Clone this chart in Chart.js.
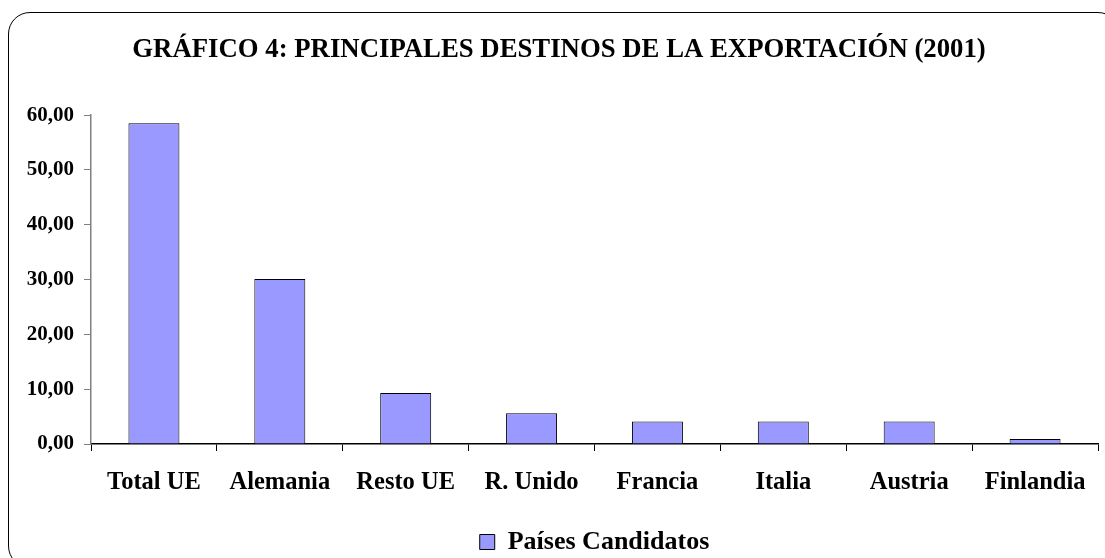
<!DOCTYPE html>
<html>
<head>
<meta charset="utf-8">
<script src="https://cdn.jsdelivr.net/npm/chart.js@4/dist/chart.umd.min.js"></script>
<style>
    html, body { margin: 0; padding: 0; background: #fff; overflow: hidden; }
    #wrap { position: relative; width: 1105px; height: 558px; }
    #frame {
        position: absolute; left: 8px; top: 12px; width: 1112px; height: 556px;
        border: 1.5px solid #000; border-radius: 22px; box-sizing: border-box;
    }
    #chart { position: absolute; left: 0; top: 0; }
</style>
</head>
<body>
<div id="wrap">
    <div id="frame"></div>
    <canvas id="chart" width="1105" height="558"></canvas>
</div>
<script>
    // data
    var categories = ['Total UE', 'Alemania', 'Resto UE', 'R. Unido', 'Francia', 'Italia', 'Austria', 'Finlandia'];
    var values = [58.5, 30.1, 9.3, 5.6, 4.1, 4.1, 4.1, 0.9];
    var seriesName = 'Países Candidatos';
    var titleText = 'GRÁFICO 4: PRINCIPALES DESTINOS DE LA EXPORTACIÓN (2001)';
    var yMin = 0, yMax = 60, yStep = 10;

    var serif = "'Liberation Serif', 'Times New Roman', serif";
    Chart.defaults.font.family = serif;
    Chart.defaults.font.weight = 'bold';
    Chart.defaults.color = '#000';

    const ctx = document.getElementById('chart');
    const barChart = new Chart(ctx, {
        type: 'bar',
        data: {
            labels: categories,
            datasets: [{
                label: seriesName,
                data: values,
                backgroundColor: '#9999FF',
                borderColor: '#000',
                borderWidth: 1,
                barPercentage: 0.405,
                categoryPercentage: 1,
            }]
        },
        options: {
            responsive: false,
            animation: false,
            layout: {
                padding: {left: 20, right: 7, top: 0, bottom: -7},
            },
            plugins: {
                title: {
                    display: true,
                    text: titleText,
                    color: '#000',
                    font: {size: 26.75, weight: 'bold', family: serif},
                    padding: {top: 34, bottom: 49},
                },
                legend: {
                    position: 'bottom',
                    fullSize: false,
                    labels: {
                        color: '#000',
                        font: {size: 26, weight: 'bold', family: serif},
                        boxWidth: 15,
                        boxHeight: 15,
                        padding: 3,
                    }
                },
                tooltip: {enabled: false},
            },
            scales: {
                x: {
                    grid: {
                        display: true,
                        drawOnChartArea: false,
                        color: '#000',
                        tickLength: 7,
                        offset: true,
                    },
                    border: {color: '#000', width: 1.5},
                    ticks: {
                        color: '#000',
                        font: {size: 24.5, weight: 'bold', family: serif},
                        padding: 17,
                        maxRotation: 0,
                        autoSkip: false,
                    },
                    afterFit: function (scale) {
                        scale.height = 82;
                    },
                },
                y: {
                    min: yMin,
                    max: yMax,
                    grid: {
                        display: true,
                        drawOnChartArea: false,
                        color: '#808080',
                        tickLength: 7,
                    },
                    border: {color: '#808080', width: 1.5},
                    ticks: {
                        stepSize: yStep,
                        color: '#000',
                        font: {size: 21, weight: 'bold', family: serif},
                        padding: 10,
                        callback: function (v) {
                            return v.toFixed(2).replace('.', ',');
                        },
                    },
                    afterFit: function (scale) {
                        scale.width = 71;
                    },
                },
            },
        },
    });
</script>
</body>
</html>
